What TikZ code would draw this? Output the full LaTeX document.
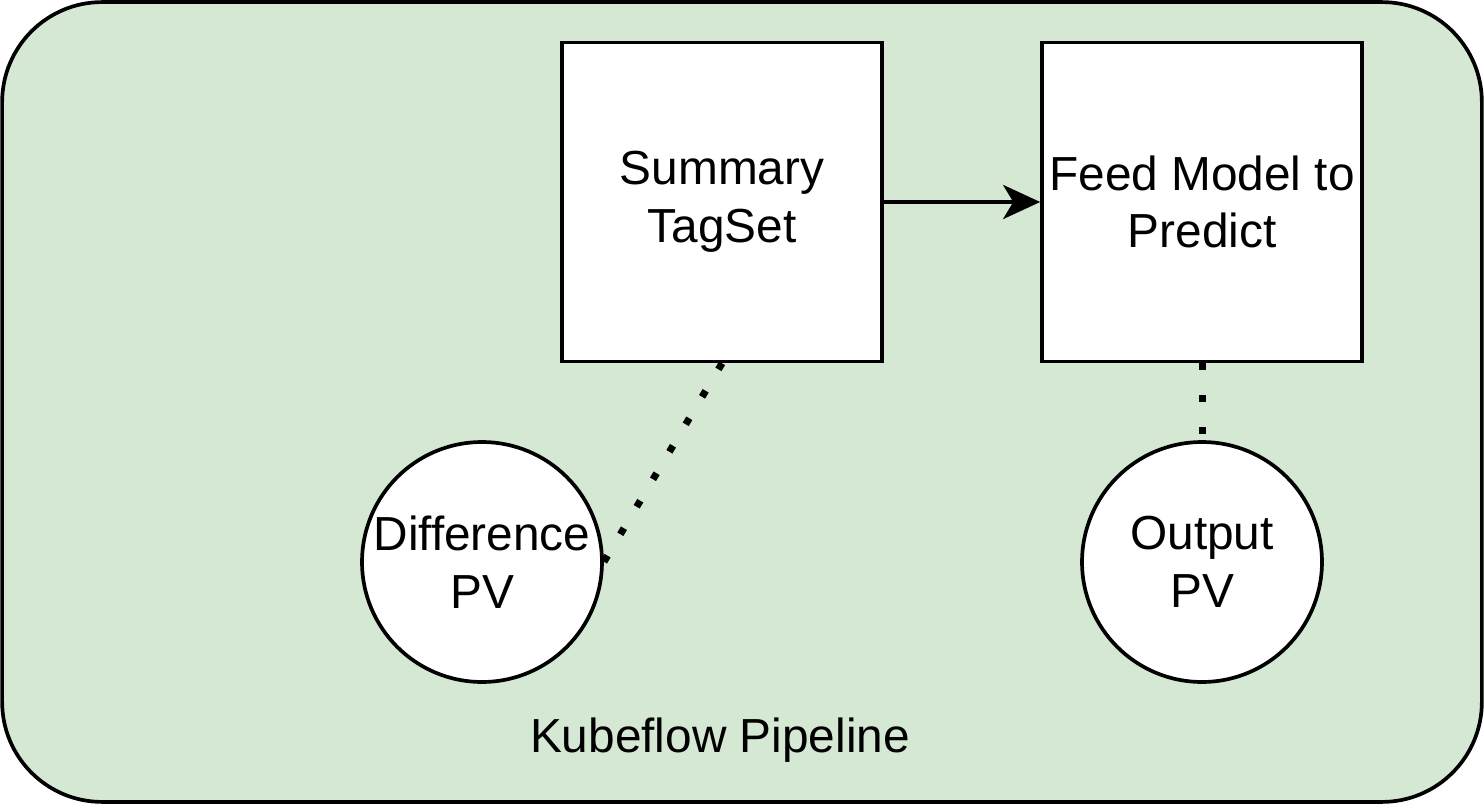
\documentclass[tikz,border=0pt]{standalone}
\usepackage{fontspec}
\setmainfont{Liberation Sans}
\definecolor{kfgreen}{RGB}{213,232,212}
\usetikzlibrary{arrows.meta,positioning}

\begin{document}
\begin{tikzpicture}[x=0.02cm,y=-0.02cm,
  stepbox/.style={draw,fill=white,line width=2.1pt,minimum width=6.4cm,minimum height=6.38cm,align=center,inner sep=0pt},
  pvcircle/.style={draw,fill=white,circle,line width=2.1pt,minimum size=4.8cm,align=center,inner sep=0pt},
  dotlink/.style={line width=4pt,dash pattern=on 4pt off 14.2pt}]
  \useasboundingbox (0,0) rectangle (1484,804);
  \fontsize{27.2}{32.7}\selectfont
  % pipeline frame
  \node[draw,fill=kfgreen,line width=2.1pt,rounded corners=2cm,minimum width=29.6cm,minimum height=16cm] (pipe) at (742,402) {};
  \node (pipelabel) at (720,740) {Kubeflow Pipeline};
  % steps
  \node[stepbox] (summary) at (722,202) {Summary\\TagSet};
  \node[stepbox] (predict) at (1202,202) {Feed Model to\\Predict};
  % volumes
  \node[pvcircle] (diffpv) at (482,562) {Difference\\PV};
  \node[pvcircle] (outpv) at (1202,562) {Output\\PV};
  \draw[-{Stealth[length=0.74cm,width=0.68cm,inset=0.2cm]},line width=2.3pt] (summary) -- (predict);
  \draw[dotlink] (summary.south) -- (diffpv.east);
  \draw[dotlink] (predict.south) -- (outpv.north);
\end{tikzpicture}
\end{document}
